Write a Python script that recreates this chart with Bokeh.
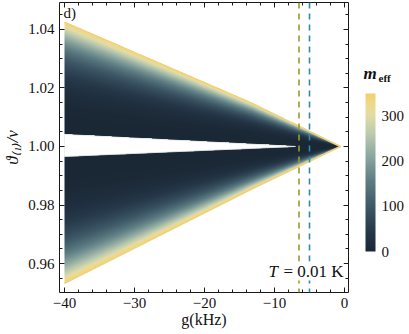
import numpy as np
from bokeh.plotting import figure
from bokeh.models import (LinearColorMapper, ColorBar, FixedTicker, LinearAxis, Span, Label,
                          PrintfTickFormatter, CustomJSTickFormatter)
from bokeh.embed import file_html
from bokeh.resources import INLINE

# ---- data ----
x_edge = [-40.0, -13.4, -0.6]          # g (kHz) along the outer edges
upper_outer = [1.0425, 1.0150, 1.0]    # upper outer boundary
lower_outer = [0.9532, 0.9853, 1.0]    # lower outer boundary
x_gap = [-40.0, -7.0]                  # white gap between the branches
upper_gap = [1.0041, 1.0]
lower_gap = [0.9966, 1.0]
m_max = 350.0
m_exponent = 3.4
cb_ticks = [0, 100, 200, 300]
g_marks = [-6.5, -5.0]
g_mark_colors = ["#9a9a2c", "#2f8ba6"]
x_ticks = [-40, -30, -20, -10, 0]
x_minor = list(range(-40, 1, 2))
y_ticks = [0.96, 0.98, 1.00, 1.02, 1.04]
y_minor = [round(0.950 + 0.005 * i, 3) for i in range(20)]

# palette (dark navy -> teal -> cream -> gold)
anchors = [0.0, 0.12, 0.28, 0.45, 0.60, 0.74, 0.86, 0.94, 1.0]
anchor_colors = ["#1a2735", "#253748", "#3d5766", "#5f7e84", "#8ba69f",
                 "#b9c9ae", "#e2dca5", "#efd88c", "#f2d16a"]


def hex2rgb(h):
    return [int(h[i:i + 2], 16) for i in (1, 3, 5)]


rgb = np.array([hex2rgb(c) for c in anchor_colors], dtype=float)
tt = np.linspace(0, 1, 256)
palette = ["#%02x%02x%02x" % tuple(int(round(np.interp(t, anchors, rgb[:, k]))) for k in range(3)) for t in tt]

# ---- field on a grid bounded by the read-off edges ----
nx, ny = 800, 900
x0, x1 = x_edge[0], x_edge[-1]
y0, y1 = min(lower_outer), max(upper_outer)
xs = np.linspace(x0, x1, nx)
ys = np.linspace(y0, y1, ny)
X, Y = np.meshgrid(xs, ys)
uo = np.interp(X, x_edge, upper_outer)
lo = np.interp(X, x_edge, lower_outer)
ug = np.interp(X, x_gap, upper_gap)
lg = np.interp(X, x_gap, lower_gap)
field = np.full(X.shape, np.nan)
up = (Y >= ug) & (Y <= uo)
dn = (Y <= lg) & (Y >= lo)
du = np.where(np.abs(uo - 1) < 1e-9, 1e-9, uo - 1)
dl = np.where(np.abs(1 - lo) < 1e-9, 1e-9, 1 - lo)
fu = np.clip((Y - 1) / du, 0, 1)
fl = np.clip((1 - Y) / dl, 0, 1)
field[up] = m_max * fu[up] ** m_exponent
field[dn] = m_max * fl[dn] ** m_exponent

FONT = "Liberation Serif"
INK = "#111111"

p = figure(width=409, height=334, x_range=(-40.714, 0.571), y_range=(0.9501, 1.0492),
           output_backend="svg", toolbar_location=None,
           min_border_left=59, min_border_right=61, min_border_top=2, min_border_bottom=42)
p.grid.visible = False
p.outline_line_color = None
p.background_fill_color = "white"
p.border_fill_color = "white"

mapper = LinearColorMapper(palette=palette, low=0, high=m_max, nan_color=(0, 0, 0, 0))
p.image(image=[field], x=x0, y=y0, dw=x1 - x0, dh=y1 - y0, color_mapper=mapper)
# smooth white gap between the two branches
p.patch(x=x_gap + x_gap[::-1], y=upper_gap + lower_gap[::-1],
        fill_color="white", line_color="#e8ecee", line_width=0.8)
p.line(x_edge, upper_outer, line_color="#f0d27a", line_width=1.5)
p.line(x_edge, lower_outer, line_color="#f0d27a", line_width=1.5)

xt = FixedTicker(ticks=x_ticks, minor_ticks=x_minor)
yt = FixedTicker(ticks=y_ticks, minor_ticks=y_minor)
bottom = p.below[0]
left = p.left[0]
bottom.ticker = xt
left.ticker = yt
bottom.formatter = CustomJSTickFormatter(code="return tick < 0 ? '\\u2212' + Math.abs(tick) : tick.toString();")
left.formatter = PrintfTickFormatter(format="%.2f")

top = LinearAxis(ticker=xt, formatter=CustomJSTickFormatter(code="return '';"))
right = LinearAxis(ticker=yt, formatter=CustomJSTickFormatter(code="return '';"))
p.add_layout(top, "above")
p.add_layout(right, "right")

for ax in [bottom, left, top, right]:
    ax.axis_line_color = "#1a1a1a"
    ax.major_tick_line_color = "#1a1a1a"
    ax.minor_tick_line_color = "#1a1a1a"
    ax.major_tick_in = 5
    ax.major_tick_out = 0
    ax.minor_tick_in = 3
    ax.minor_tick_out = 0
    ax.major_label_text_font = FONT
    ax.major_label_text_font_size = "15px"
    ax.major_label_text_color = INK
for ax in [top, right]:
    ax.major_label_text_font_size = "1px"
    ax.major_label_standoff = 0

bottom.axis_label = "g(kHz)"
bottom.axis_label_text_font = FONT
bottom.axis_label_text_font_size = "16px"
bottom.axis_label_text_font_style = "normal"
bottom.axis_label_text_color = INK
bottom.axis_label_standoff = 0

left.axis_label = "\u03d1\u208d\u2081\u208e/\u03bd"
left.axis_label_text_font = FONT
left.axis_label_text_font_size = "17px"
left.axis_label_text_font_style = "italic"
left.axis_label_text_color = INK
left.axis_label_standoff = 3

for g, c in zip(g_marks, g_mark_colors):
    p.add_layout(Span(location=g, dimension="height", line_color=c, line_width=1.6, line_dash="6 5"))

cb = ColorBar(color_mapper=mapper, ticker=FixedTicker(ticks=cb_ticks), width=10, height=158,
              location=(306, 41), padding=0, margin=0,
              major_label_text_font=FONT, major_label_text_font_size="15px",
              major_label_text_color=INK,
              major_tick_line_color=None, bar_line_color=None, border_line_color=None,
              background_fill_alpha=0, label_standoff=6)
p.add_layout(cb, "center")

# colour-bar title "m_eff": carried as labels of two invisible, taller bars
title_parts = [("m", 311.5, 303, "17px", "bold italic"),
               ("eff", 303.6, 318, "11px", "bold")]
for txt, val, xloc, size, style in title_parts:
    tb = ColorBar(color_mapper=mapper, ticker=FixedTicker(ticks=[val]),
                  major_label_overrides={val: txt}, width=1, height=200,
                  location=(xloc, 41), padding=0, margin=0, scale_alpha=0,
                  major_label_text_font=FONT, major_label_text_font_size=size,
                  major_label_text_font_style=style, major_label_text_color=INK,
                  major_tick_line_color=None, bar_line_color=None, border_line_color=None,
                  background_fill_alpha=0, label_standoff=0)
    p.add_layout(tb, "center")

labels = [
    Label(x=4, y=272, text="d)", text_font_size="15px"),
    Label(x=209, y=12, text="T", text_font_style="italic", text_font_size="17px"),
    Label(x=224, y=12, text="= 0.01 K", text_font_size="17px", background_fill_color="white"),
]
for lb in labels:
    lb.x_units = "screen"
    lb.y_units = "screen"
    lb.text_font = FONT
    lb.text_color = INK
    p.add_layout(lb)

open("out.html", "w").write(file_html(p, INLINE))
